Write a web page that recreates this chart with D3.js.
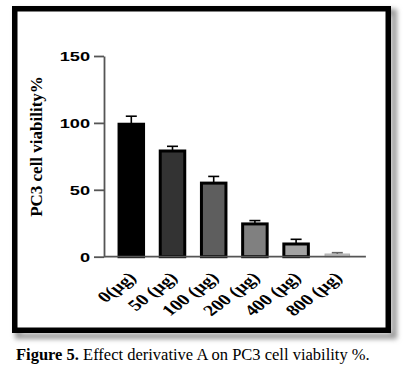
<!DOCTYPE html>
<html>
<head>
<meta charset="utf-8">
<script src="https://cdn.jsdelivr.net/npm/d3@7"></script>
<style>
  html, body { margin: 0; padding: 0; background: #fff; }
  svg { display: block; }
</style>
</head>
<body>
<svg id="chart" width="406" height="372"></svg>
<script>
const categories = ["0(μg)", "50 (μg)", "100 (μg)", "200 (μg)", "400 (μg)", "800 (μg)"];
const values = [99, 79, 55, 24.5, 9.5, 2];
const errors = [6, 3.5, 5, 2.5, 3.5, 1];
const fills = ["#000000", "#333333", "#5e5e5e", "#808080", "#a3a3a3", "#c4c4c4"];
const strokes = ["#000000", "#000000", "#000000", "#000000", "#000000", "#b0b0b0"];
const yTicks = [0, 50, 100, 150];
const yTitle = "PC3 cell viability%";
const captionBold = "Figure 5.";
const captionRest = " Effect derivative A on PC3 cell viability %.";

const svg = d3.select("#chart");

// Shadow filter
const defs = svg.append("defs");
const f = defs.append("filter").attr("id", "blur").attr("x", "-10%").attr("y", "-10%").attr("width", "120%").attr("height", "120%");
f.append("feGaussianBlur").attr("stdDeviation", 2.5);

// frame shadow + frame
svg.append("rect").attr("x", 18).attr("y", 12).attr("width", 376).attr("height", 324)
  .attr("fill", "none").attr("stroke", "#9a9a9a").attr("stroke-width", 6).attr("filter", "url(#blur)");
svg.append("rect").attr("x", 14.75).attr("y", 8.75).attr("width", 373.5).attr("height", 321.5)
  .attr("fill", "#fff").attr("stroke", "#000").attr("stroke-width", 5.5);

const axisX0 = 104;
const y = d3.scaleLinear().domain([0, 150]).range([256.7, 56]);
const x = d3.scaleBand().domain(categories).range([110.7, 357.9]).paddingInner(0.405).paddingOuter(0.2025);

// Y axis
const gy = svg.append("g").attr("transform", `translate(${axisX0},0)`)
  .call(d3.axisLeft(y).tickValues(yTicks).tickSize(10).tickSizeOuter(0));
gy.select(".domain").attr("stroke", "#555").attr("stroke-width", 1.8);
gy.selectAll(".tick line").attr("stroke", "#555").attr("stroke-width", 1.8);
gy.selectAll(".tick text")
  .attr("x", -10).attr("dy", "0.36em")
  .attr("transform", "scale(1.4,1)")
  .attr("font-family", "'Liberation Sans', Arial, sans-serif")
  .attr("font-weight", "bold").attr("font-size", 13).attr("fill", "#000");

// Bars
svg.append("g").selectAll("rect").data(categories).join("rect")
  .attr("x", d => x(d))
  .attr("y", (d, i) => y(values[i]))
  .attr("width", x.bandwidth())
  .attr("height", (d, i) => y(0) - y(values[i]))
  .attr("fill", (d, i) => fills[i])
  .attr("stroke", (d, i) => strokes[i])
  .attr("stroke-width", (d, i) => i === 5 ? 1 : 3);

// Error bars
const eg = svg.append("g");
categories.forEach((c, i) => {
  const cx = x(c) + x.bandwidth() / 2;
  const col = i === 5 ? "#666" : "#000";
  eg.append("line").attr("x1", cx).attr("x2", cx).attr("y1", y(values[i])).attr("y2", y(values[i] + errors[i]))
    .attr("stroke", col).attr("stroke-width", 1.6);
  eg.append("line").attr("x1", cx - 5.5).attr("x2", cx + 5.5).attr("y1", y(values[i] + errors[i])).attr("y2", y(values[i] + errors[i]))
    .attr("stroke", col).attr("stroke-width", 1.6);
});

// X axis
const gx = svg.append("g").attr("transform", `translate(0,${y(0)})`)
  .call(d3.axisBottom(x).tickSize(0).tickSizeOuter(0));
gx.select(".domain").remove();
svg.append("line").attr("x1", axisX0).attr("x2", x.range()[1] + 8).attr("y1", y(0)).attr("y2", y(0))
  .attr("stroke", "#555").attr("stroke-width", 1.8);
gx.selectAll(".tick text")
  .attr("y", 0).attr("dy", 0)
  .attr("text-anchor", "end")
  .attr("transform", "translate(6,22) scale(1.3,1) rotate(-45)")
  .attr("font-family", "'Liberation Serif', 'Times New Roman', serif")
  .attr("font-weight", "bold").attr("font-size", 15.5).attr("fill", "#000");

// Y title
svg.append("text")
  .attr("transform", "translate(42,146.5) rotate(-90)")
  .attr("text-anchor", "middle")
  .attr("font-family", "'Liberation Serif', 'Times New Roman', serif")
  .attr("font-weight", "bold").attr("font-size", 17).attr("fill", "#000")
  .text(yTitle);

// Caption
const cap = svg.append("text").attr("x", 16).attr("y", 359.5)
  .attr("font-family", "'Liberation Serif', 'Times New Roman', serif")
  .attr("font-size", 16.5).attr("fill", "#000");
cap.append("tspan").attr("font-weight", "bold").text(captionBold);
cap.append("tspan").text(captionRest);
</script>
</body>
</html>
